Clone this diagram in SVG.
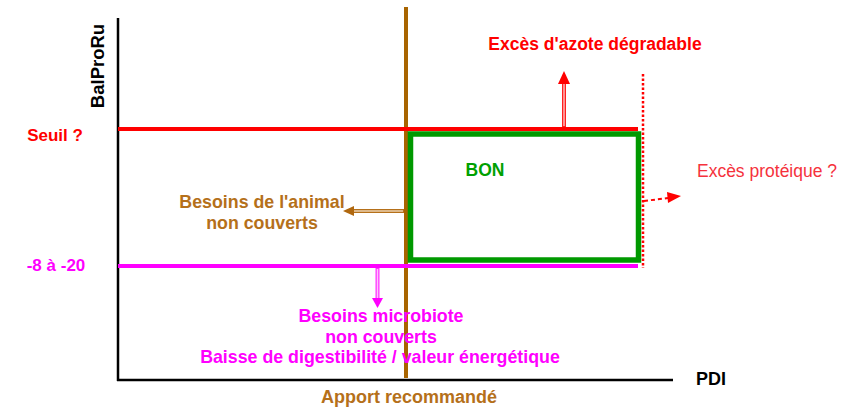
<svg xmlns="http://www.w3.org/2000/svg" width="853" height="409" viewBox="0 0 853 409">
<style>
text{font-family:"Liberation Sans",Arial,sans-serif;}
.b{font-weight:bold;}
.red{fill:#ff0000;}
.mag{fill:#ff00ff;}
.brn{fill:#b5701a;}
.grn{fill:#00a000;}
.blk{fill:#000;}
</style>
<rect width="853" height="409" fill="#fff"/>
<g id="axes">
<line x1="118" y1="18" x2="118" y2="381" stroke="#000" stroke-width="2.5"/>
<line x1="117" y1="380" x2="673" y2="380" stroke="#000" stroke-width="2.5"/>
<text class="b blk" font-size="18.5" transform="translate(104,66) rotate(-90)" text-anchor="middle">BalProRu</text>
<text class="b blk" x="711" y="385" font-size="18" text-anchor="middle">PDI</text>
</g>
<g id="apport">
<line x1="406" y1="7" x2="406" y2="378" stroke="#a86400" stroke-width="4"/>
<text class="b brn" x="409" y="403" font-size="18" text-anchor="middle">Apport recommandé</text>
</g>
<g id="seuil">
<line x1="118" y1="129" x2="638" y2="129" stroke="#ff0000" stroke-width="4"/>
<text class="b red" x="55" y="141" font-size="17" text-anchor="middle">Seuil ?</text>
</g>
<g id="limite-basse">
<line x1="118" y1="266" x2="638" y2="266" stroke="#ff00ff" stroke-width="4"/>
<text class="b mag" x="56" y="271" font-size="17" text-anchor="middle">-8 à -20</text>
</g>
<g id="bon">
<rect x="410.5" y="134" width="228" height="126" fill="none" stroke="#009900" stroke-width="5.5"/>
<text class="b grn" x="485" y="176" font-size="17.5" text-anchor="middle">BON</text>
</g>
<g id="exces-proteique-limite">
<line x1="643" y1="74" x2="643" y2="268" stroke="#ff0000" stroke-width="2.5" stroke-dasharray="2.5,2"/>
</g>
<g id="connectors">
<line x1="564" y1="127" x2="564" y2="83" stroke="#ff2020" stroke-width="4"/>
<line x1="564" y1="126" x2="564" y2="83" stroke="#ffb8b8" stroke-width="1.5"/>
<polygon points="558,84 570,84 564,71" fill="#ff0000"/>
<line x1="644" y1="201" x2="668" y2="198" stroke="#ff0000" stroke-width="2" stroke-dasharray="4,3"/>
<polygon points="667,192 681,196 668,203" fill="#ff0000"/>
<line x1="404" y1="211" x2="353" y2="211" stroke="#b5701a" stroke-width="4"/>
<line x1="403" y1="211" x2="353" y2="211" stroke="#ecd2b0" stroke-width="1.5"/>
<polygon points="354,206 354,216 343,211" fill="#b0680f"/>
<line x1="377.5" y1="268" x2="377.5" y2="298" stroke="#ff30ff" stroke-width="4"/>
<line x1="377.5" y1="269" x2="377.5" y2="298" stroke="#ffc0ff" stroke-width="1.5"/>
<polygon points="372,298 383,298 377.5,308" fill="#ff00ff"/>
</g>
<g id="label-azote">
<text class="b red" x="595" y="50" font-size="17.5" text-anchor="middle">Excès d'azote dégradable</text>
</g>
<g id="label-proteique">
<text x="767" y="177" font-size="17.5" fill="#f5323c" text-anchor="middle">Excès protéique ?</text>
</g>
<g id="label-animal">
<text class="b brn" font-size="17.8" text-anchor="middle"><tspan x="262" y="208">Besoins de l'animal</tspan><tspan x="262" y="229">non couverts</tspan></text>
</g>
<g id="label-microbiote">
<text class="b mag" font-size="17.8" text-anchor="middle"><tspan x="381" y="322">Besoins microbiote</tspan><tspan x="381" y="343">non couverts</tspan><tspan x="380" y="363">Baisse de digestibilité / valeur énergétique</tspan></text>
</g>
</svg>
